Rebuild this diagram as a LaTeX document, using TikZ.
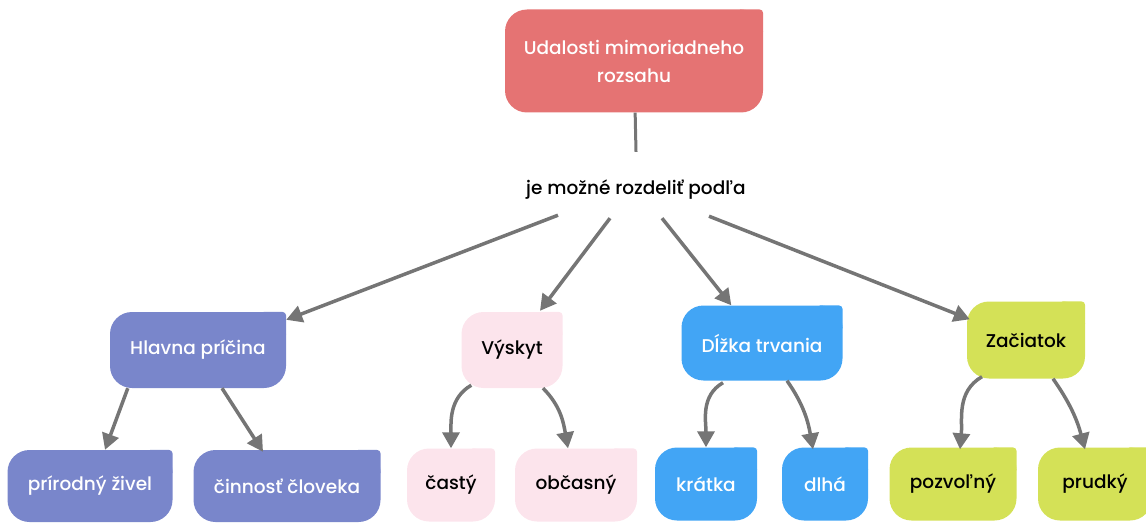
\documentclass[tikz,border=0pt]{standalone}
\usepackage{fontspec}
\setmainfont{Poppins Medium}
\usepackage{tikz}
\usetikzlibrary{positioning}
\usetikzlibrary{calc}
\usetikzlibrary{arrows.meta}
\definecolor{evred}{HTML}{E57373}
\definecolor{evindigo}{HTML}{7986CB}
\definecolor{evpink}{HTML}{FCE4EC}
\definecolor{evblue}{HTML}{42A5F5}
\definecolor{evlime}{HTML}{D4E157}
\definecolor{evgray}{HTML}{757575}
\newcommand{\sharpcorner}[2]{ % Takes node name and fill colour, makes the top right corner almost square
    \fill[#2, rounded corners=4pt] ($(#1.north east)+(-26pt,0)$) rectangle ($(#1.north east)+(0,-26pt)$);
}

\begin{document}
\begin{tikzpicture}[x=1pt, y=-1pt,
    font=\fontsize{18.5}{28}\selectfont,
    box/.style={rounded corners=22pt, inner sep=0pt, align=center},
    link/.style={draw=evgray, line width=3.5pt, -{Triangle[length=16pt,width=17pt]}}]
                \useasboundingbox (0,0) rectangle (1146,524);

                % Top
                \node[box, fill=evred, text=white, minimum width=258pt, minimum height=103pt] (main) at (634,61) {Udalosti mimoriadneho\\rozsahu};
                \node[inner sep=0pt, minimum height=56pt] (podla) at (636,190) {je možné rozdeliť podľa};

                % Second row
                \node[box, fill=evindigo, text=white, minimum width=176pt, minimum height=76pt] (hlavna) at (198,350) {Hlavna príčina};
                \node[box, fill=evpink, minimum width=101pt, minimum height=76pt] (vyskyt) at (512,350) {Výskyt};
                \node[box, fill=evblue, text=white, minimum width=161pt, minimum height=75pt] (dlzka) at (762,343) {Dĺžka trvania};
                \node[box, fill=evlime, minimum width=118pt, minimum height=77pt] (zaciatok) at (1026,340) {Začiatok};

                % Bottom row
                \node[box, fill=evindigo, text=white, minimum width=165pt, minimum height=72pt] (prirodny) at (90,486) {prírodný živel};
                \node[box, fill=evindigo, text=white, minimum width=187pt, minimum height=72pt] (cinnost) at (287,486) {činnosť človeka};
                \node[box, fill=evpink, minimum width=88pt, minimum height=73pt] (casty) at (451,485) {častý};
                \node[box, fill=evpink, minimum width=122pt, minimum height=73pt] (obcasny) at (576,485) {občasný};
                \node[box, fill=evblue, text=white, minimum width=102pt, minimum height=73pt] (kratka) at (706,484) {krátka};
                \node[box, fill=evblue, text=white, minimum width=86pt, minimum height=73pt] (dlha) at (825,484) {dlhá};
                \node[box, fill=evlime, minimum width=127pt, minimum height=73pt] (pozvolny) at (953,484) {pozvoľný};
                \node[box, fill=evlime, minimum width=114pt, minimum height=73pt] (prudky) at (1095,484) {prudký};

                % Square corners
                \foreach \n/\c in {main/evred, hlavna/evindigo, vyskyt/evpink, dlzka/evblue, zaciatok/evlime,
                    prirodny/evindigo, cinnost/evindigo, casty/evpink, obcasny/evpink,
                    kratka/evblue, dlha/evblue, pozvolny/evlime, prudky/evlime}
                    {\sharpcorner{\n}{\c}}

                % Connectors from the top
                \draw[evgray, line width=3pt] (main) -- ([yshift=10pt]podla.north);
                \draw[link] ([xshift=-78pt,yshift=3pt]podla.south) -- ([yshift=-8pt]hlavna.north east);
                \draw[link] ([xshift=-26pt]podla.south) -- ([xshift=28pt,yshift=1pt]vyskyt.north);
                \draw[link] ([xshift=26pt]podla.south) -- ([xshift=50pt]dlzka.north west);
                \draw[link] ([xshift=73pt,yshift=2pt]podla.south) -- ([xshift=3pt,yshift=-18pt]zaciatok.north west);

                % Connectors to the bottom row
                \draw[link] ([xshift=18pt]hlavna.south west) -- ([xshift=15pt]prirodny.north);
                \draw[link] ([xshift=24pt]hlavna.south) -- ([xshift=-24pt,yshift=-2pt]cinnost.north);
                \draw[link] ([xshift=10pt,yshift=3pt]vyskyt.south west) to[out=-150, in=90] (casty.north);
                \draw[link] ([xshift=31pt]vyskyt.south) to[out=-45, in=100] ([xshift=-8pt]obcasny.north);
                \draw[link] ([xshift=-39pt,yshift=-2pt]dlzka.south) to[out=-150, in=90] (kratka.north);
                \draw[link] ([xshift=25pt]dlzka.south) to[out=-55, in=100] ([xshift=-12pt,yshift=-2pt]dlha.north);
                \draw[link] ([xshift=-44pt,yshift=2pt]zaciatok.south) to[out=-150, in=85] ([xshift=7pt,yshift=-2pt]pozvolny.north);
                \draw[link] ([xshift=27pt]zaciatok.south) to[out=-55, in=105] ([xshift=-10pt,yshift=-2pt]prudky.north);
            \end{tikzpicture}
\end{document}
